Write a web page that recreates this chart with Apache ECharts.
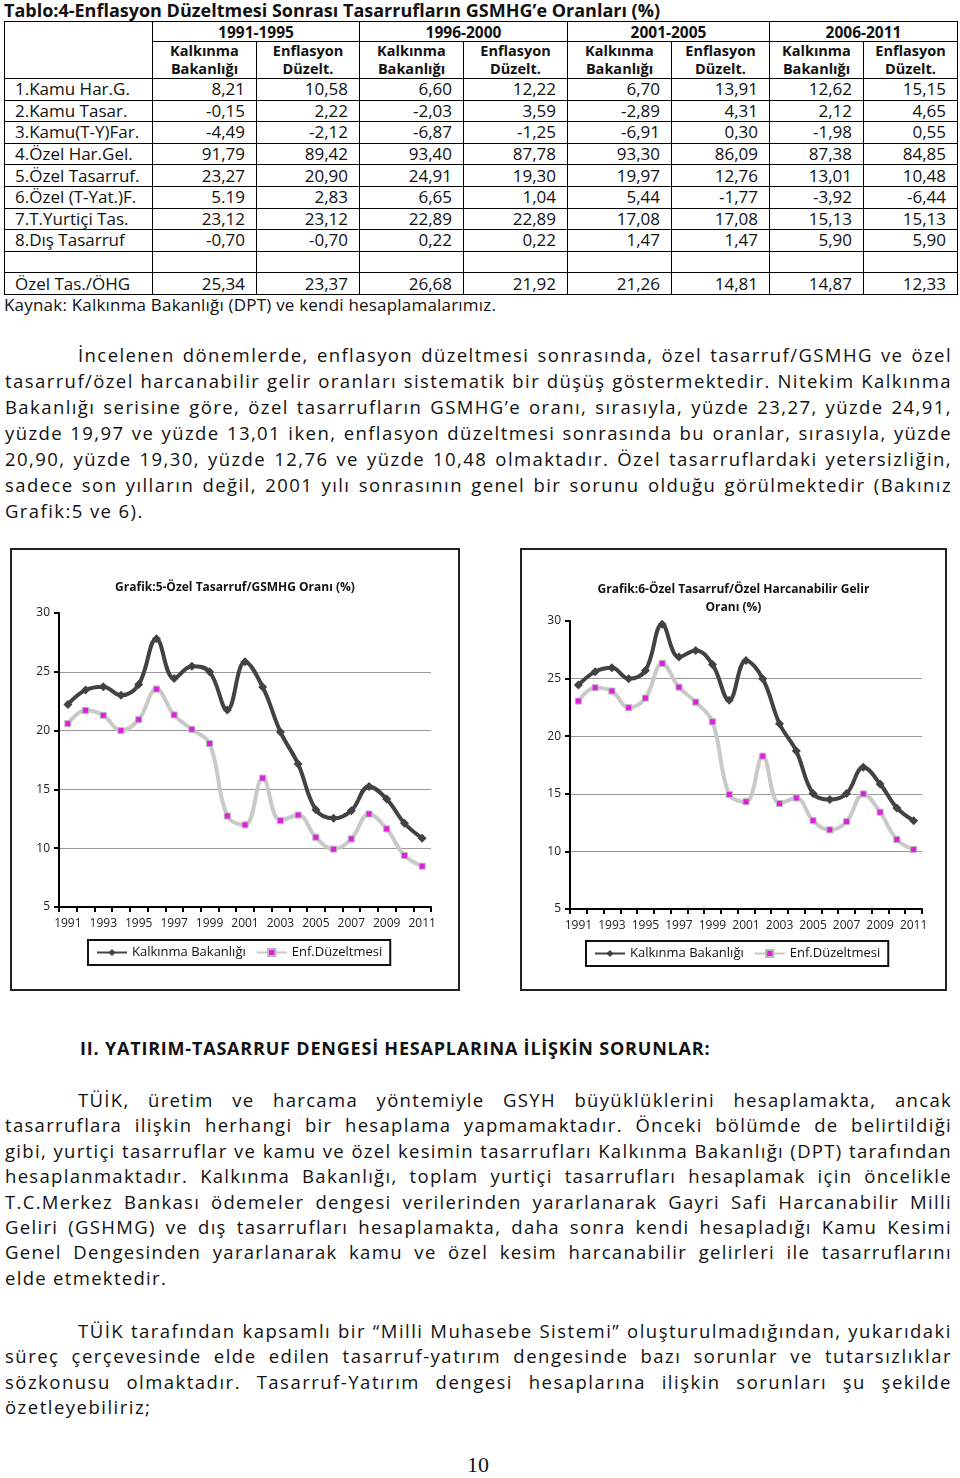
<!DOCTYPE html>
<html>
<head>
<meta charset="utf-8">
<title>Tablo 4 - Grafik 5 ve 6</title>
<script src="https://cdn.jsdelivr.net/npm/echarts@6/dist/echarts.min.js"></script>
<style>
    body { margin: 0; background: #fff; color: #111; font-family: 'Open Sans', sans-serif; }
    #page { position: relative; width: 960px; height: 1478px; overflow: hidden; }
    .abs { position: absolute; }
    #tblTitle { left: 4px; top: 0; font-weight: bold; font-size: 18px; line-height: 21px; white-space: nowrap; }
    #tbl { left: 4px; top: 21px; border-collapse: collapse; table-layout: fixed; font-size: 17px; }
    #tbl td { border: 1px solid #000; padding: 0; line-height: 18px; }
    #tbl .hd { font-weight: bold; text-align: center; font-size: 14.5px; }
    #tbl .per { font-size: 15.5px; }
    #tbl .lbl { padding-left: 10px; white-space: nowrap; }
    #tbl .num { text-align: right; padding-right: 11px; }
    #kaynak { left: 4px; top: 295px; font-size: 17px; line-height: 20px; letter-spacing: 0.2px; }
    .para { left: 5px; width: 947px; font-size: 18.5px; }
    .para div { text-align: justify; text-align-last: justify; }
    .para div.first { text-indent: 73px; }
    .para div.last { text-align-last: left; }
    .frame { border: 2px solid #222; box-sizing: border-box; top: 548px; height: 443px; }
    .frame > div { width: 100%; height: 100%; }
    #heading { left: 80px; top: 1036px; font-weight: bold; font-size: 18px; line-height: 24px; letter-spacing: 0.8px; white-space: nowrap; }
    #pageNo { left: 0; width: 956px; top: 1452px; text-align: center; font-family: 'Liberation Serif', serif; font-size: 22px; }
</style>
</head>
<body>
<div id="page">
    <div id="tblTitle" class="abs">Tablo:4-Enflasyon Düzeltmesi Sonrası Tasarrufların GSMHG’e Oranları (%)</div>
    <table id="tbl" class="abs"></table>
    <div id="kaynak" class="abs">Kaynak: Kalkınma Bakanlığı (DPT) ve kendi hesaplamalarımız.</div>

    <div class="abs para" style="top:342px; line-height:26px;">
        <div class="first">İncelenen dönemlerde, enflasyon düzeltmesi sonrasında, özel tasarruf/GSMHG ve özel</div>
        <div>tasarruf/özel harcanabilir gelir oranları sistematik bir düşüş göstermektedir. Nitekim Kalkınma</div>
        <div>Bakanlığı serisine göre, özel tasarrufların GSMHG’e oranı, sırasıyla, yüzde 23,27, yüzde 24,91,</div>
        <div>yüzde 19,97 ve yüzde 13,01 iken, enflasyon düzeltmesi sonrasında bu oranlar, sırasıyla, yüzde</div>
        <div>20,90, yüzde 19,30, yüzde 12,76 ve yüzde 10,48 olmaktadır. Özel tasarruflardaki yetersizliğin,</div>
        <div>sadece son yılların değil, 2001 yılı sonrasının genel bir sorunu olduğu görülmektedir (Bakınız</div>
        <div class="last">Grafik:5 ve 6).</div>
    </div>

    <div class="abs frame" style="left:10px; width:450px;"><div id="chart5"></div></div>
    <div class="abs frame" style="left:520px; width:427px;"><div id="chart6"></div></div>

    <div id="heading" class="abs">II. YATIRIM-TASARRUF DENGESİ HESAPLARINA İLİŞKİN SORUNLAR:</div>

    <div class="abs para" style="top:1087px; line-height:25.4px;">
        <div class="first">TÜİK, üretim ve harcama yöntemiyle GSYH büyüklüklerini hesaplamakta, ancak</div>
        <div>tasarruflara ilişkin herhangi bir hesaplama yapmamaktadır. Önceki bölümde de belirtildiği</div>
        <div>gibi, yurtiçi tasarruflar ve kamu ve özel kesimin tasarrufları Kalkınma Bakanlığı (DPT) tarafından</div>
        <div>hesaplanmaktadır. Kalkınma Bakanlığı, toplam yurtiçi tasarrufları hesaplamak için öncelikle</div>
        <div>T.C.Merkez Bankası ödemeler dengesi verilerinden yararlanarak Gayri Safi Harcanabilir Milli</div>
        <div>Geliri (GSHMG) ve dış tasarrufları hesaplamakta, daha sonra kendi hesapladığı Kamu Kesimi</div>
        <div>Genel Dengesinden yararlanarak kamu ve özel kesim harcanabilir gelirleri ile tasarruflarını</div>
        <div class="last">elde etmektedir.</div>
    </div>

    <div class="abs para" style="top:1318px; line-height:25.3px;">
        <div class="first">TÜİK tarafından kapsamlı bir “Milli Muhasebe Sistemi” oluşturulmadığından, yukarıdaki</div>
        <div>süreç çerçevesinde elde edilen tasarruf-yatırım dengesinde bazı sorunlar ve tutarsızlıklar</div>
        <div>sözkonusu olmaktadır. Tasarruf-Yatırım dengesi hesaplarına ilişkin sorunları şu şekilde</div>
        <div class="last">özetleyebiliriz;</div>
    </div>

    <div id="pageNo" class="abs">10</div>
</div>

<script>
    // table data
    var periods = ['1991-1995', '1996-2000', '2001-2005', '2006-2011'];
    var subHeads = ['Kalkınma<br>Bakanlığı', 'Enflasyon<br>Düzelt.'];
    var rowLabels = ['1.Kamu Har.G.', '2.Kamu Tasar.', '3.Kamu(T-Y)Far.', '4.Özel Har.Gel.', '5.Özel Tasarruf.',
        '6.Özel (T-Yat.)F.', '7.T.Yurtiçi Tas.', '8.Dış Tasarruf', '', 'Özel Tas./ÖHG'];
    var rowKamuHarG = ['8,21', '10,58', '6,60', '12,22', '6,70', '13,91', '12,62', '15,15'];
    var rowKamuTasar = ['-0,15', '2,22', '-2,03', '3,59', '-2,89', '4,31', '2,12', '4,65'];
    var rowKamuFar = ['-4,49', '-2,12', '-6,87', '-1,25', '-6,91', '0,30', '-1,98', '0,55'];
    var rowOzelHarGel = ['91,79', '89,42', '93,40', '87,78', '93,30', '86,09', '87,38', '84,85'];
    var rowOzelTas = ['23,27', '20,90', '24,91', '19,30', '19,97', '12,76', '13,01', '10,48'];
    var rowOzelFar = ['5.19', '2,83', '6,65', '1,04', '5,44', '-1,77', '-3,92', '-6,44'];
    var rowYurtici = ['23,12', '23,12', '22,89', '22,89', '17,08', '17,08', '15,13', '15,13'];
    var rowDis = ['-0,70', '-0,70', '0,22', '0,22', '1,47', '1,47', '5,90', '5,90'];
    var rowBlank = ['', '', '', '', '', '', '', ''];
    var rowOzelOHG = ['25,34', '23,37', '26,68', '21,92', '21,26', '14,81', '14,87', '12,33'];

    // chart data
    var years = ['1991', '1992', '1993', '1994', '1995', '1996', '1997', '1998', '1999', '2000', '2001',
        '2002', '2003', '2004', '2005', '2006', '2007', '2008', '2009', '2010', '2011'];
    var kalk5 = [22.23, 23.45, 23.73, 23.0, 23.93, 27.82, 24.43, 25.48, 25.0, 21.75, 25.85,
        23.7, 19.89, 17.15, 13.28, 12.54, 13.19, 15.25, 14.18, 12.12, 10.85];
    var enf5 = [20.59, 21.72, 21.3, 20.0, 20.93, 23.53, 21.33, 20.11, 18.9, 12.74, 11.98,
        15.96, 12.34, 12.82, 10.93, 9.92, 10.79, 12.91, 11.64, 9.38, 8.47];
    var kalk6 = [24.44, 25.6, 25.94, 24.99, 25.71, 29.71, 26.87, 27.45, 26.23, 23.11, 26.58,
        24.99, 21.08, 18.71, 15.02, 14.5, 15.02, 17.3, 15.86, 13.77, 12.67];
    var enf6 = [23.05, 24.21, 23.92, 22.47, 23.31, 26.32, 24.26, 22.96, 21.25, 14.94, 14.31,
        18.27, 14.15, 14.64, 12.67, 11.87, 12.59, 14.99, 13.4, 11.03, 10.16];

    // build the table
    var colWidths = [148, 104, 103, 104, 104, 104, 98, 94, 94];
    var rows = [rowKamuHarG, rowKamuTasar, rowKamuFar, rowOzelHarGel, rowOzelTas,
        rowOzelFar, rowYurtici, rowDis, rowBlank, rowOzelOHG];
    var html = '<colgroup>';
    colWidths.forEach(function (w) { html += '<col style="width:' + w + 'px">'; });
    html += '</colgroup>';
    html += '<tr style="height:20px"><td rowspan="2"></td>';
    periods.forEach(function (p) { html += '<td colspan="2" class="hd per">' + p + '</td>'; });
    html += '</tr><tr style="height:37px">';
    periods.forEach(function () {
        html += '<td class="hd">' + subHeads[0] + '</td><td class="hd">' + subHeads[1] + '</td>';
    });
    html += '</tr>';
    rows.forEach(function (r, i) {
        html += '<tr style="height:21.6px"><td class="lbl">' + rowLabels[i] + '</td>';
        r.forEach(function (v) { html += '<td class="num">' + v + '</td>'; });
        html += '</tr>';
    });
    document.getElementById('tbl').innerHTML = html;

    // the original face is wider; add a little letter spacing so the longest line nearly fills the width
    document.querySelectorAll('.para').forEach(function (p) {
        var best = null;
        p.querySelectorAll('div').forEach(function (d) {
            if (d.classList.contains('last')) return;
            var s = document.createElement('span');
            s.style.whiteSpace = 'nowrap';
            s.textContent = d.textContent;
            p.appendChild(s);
            var w = s.getBoundingClientRect().width;
            p.removeChild(s);
            var avail = 947 - (d.classList.contains('first') ? 73 : 0) - 4;
            var ls = (avail - w) / d.textContent.length;
            if (best === null || ls < best) best = ls;
        });
        p.style.letterSpacing = best.toFixed(2) + 'px';
    });

    var font = 'Open Sans';

    function makeOption(title, kalk, enf, grid, legendLeft, legendTop, titleTop) {
        return {
            animation: false,
            textStyle: { fontFamily: font },
            title: {
                text: title,
                left: 'center',
                top: titleTop,
                textStyle: { fontSize: 12, fontWeight: 'bold', color: '#111', lineHeight: 18, fontFamily: font }
            },
            legend: {
                left: legendLeft,
                top: legendTop,
                orient: 'horizontal',
                borderColor: '#111',
                borderWidth: 2,
                borderRadius: 0,
                padding: [6, 8, 6, 8],
                itemWidth: 30,
                itemHeight: 9,
                itemGap: 10,
                textStyle: { fontSize: 13, color: '#111', fontFamily: font }
            },
            grid: grid,
            xAxis: {
                type: 'category',
                data: years,
                boundaryGap: true,
                axisLine: { lineStyle: { color: '#000', width: 2 } },
                axisTick: { show: true, interval: 0, length: 5, lineStyle: { color: '#000', width: 2 } },
                axisLabel: { interval: 1, fontSize: 12, color: '#222', margin: 11, fontFamily: font }
            },
            yAxis: {
                type: 'value',
                min: 5,
                max: 30,
                interval: 5,
                axisLine: { show: true, lineStyle: { color: '#000', width: 2 } },
                axisTick: { show: true, length: 5, lineStyle: { color: '#000', width: 2 } },
                axisLabel: { fontSize: 12, color: '#222', margin: 9, fontFamily: font },
                splitLine: { show: true, showMaxLine: false, lineStyle: { color: '#999', width: 1 } }
            },
            series: [
                {
                    name: 'Kalkınma Bakanlığı',
                    type: 'line',
                    data: kalk,
                    smooth: 0.4,
                    symbol: 'diamond',
                    symbolSize: 9,
                    lineStyle: { color: '#424242', width: 4 },
                    itemStyle: { color: '#424242' },
                    z: 3
                },
                {
                    name: 'Enf.Düzeltmesi',
                    type: 'line',
                    data: enf,
                    smooth: 0.4,
                    symbol: 'rect',
                    symbolSize: 6,
                    lineStyle: { color: '#c9c9c9', width: 4 },
                    itemStyle: { color: '#e01ee0', borderColor: '#b8b8b8', borderWidth: 1 },
                    z: 2
                }
            ]
        };
    }

    var chart5 = echarts.init(document.getElementById('chart5'));
    chart5.setOption(makeOption('Grafik:5-Özel Tasarruf/GSMHG Oranı (%)', kalk5, enf5,
        { left: 47, right: 27, top: 63, bottom: 82 }, 76, 390, 24));

    var chart6 = echarts.init(document.getElementById('chart6'));
    chart6.setOption(makeOption('Grafik:6-Özel Tasarruf/Özel Harcanabilir Gelir\nOranı (%)', kalk6, enf6,
        { left: 48, right: 23, top: 71, bottom: 80 }, 64, 391, 26));
</script>
</body>
</html>
